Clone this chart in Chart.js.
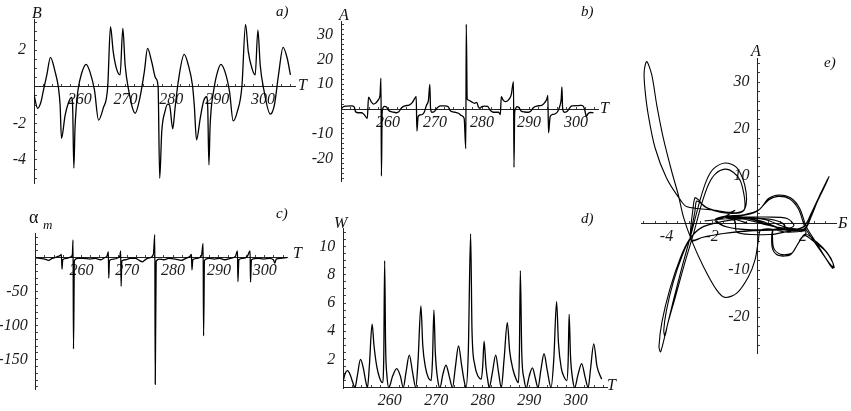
<!DOCTYPE html>
<html lang="ru">
<head>
<meta charset="UTF-8">
<title>Chaotic regime: B, A, alpha_m, W and phase portrait</title>
<script src="https://cdn.jsdelivr.net/npm/chart.js"></script>
<style>
    body { margin: 0; background: #fff; width: 851px; height: 411px; overflow: hidden; position: relative; }
    canvas { position: absolute; }
    .lbl { position: absolute; font-family: 'Liberation Serif', serif; font-style: italic; font-size: 16px; line-height: 1; color: #111; }
    .pl { font-size: 15px; }
</style>
</head>
<body>
<canvas id="cA" width="315" height="195" style="left:0;top:0"></canvas>
<canvas id="cB" width="305" height="195" style="left:310px;top:0"></canvas>
<canvas id="cC" width="315" height="210" style="left:0;top:195px"></canvas>
<canvas id="cD" width="315" height="216" style="left:305px;top:195px"></canvas>
<canvas id="cE" width="226" height="330" style="left:625px;top:40px"></canvas>

<span class="lbl" style="left:32px;top:5px">B</span>
<span class="lbl" style="left:298px;top:77px">T</span>
<span class="lbl pl" style="left:276px;top:4px">a)</span>
<span class="lbl" style="left:339px;top:7px">A</span>
<span class="lbl" style="left:600px;top:100px">T</span>
<span class="lbl pl" style="left:581px;top:4px">b)</span>
<span class="lbl" style="left:29px;top:208px;font-style:normal;font-family:'Liberation Serif',serif;font-size:18px">α</span>
<span class="lbl" style="left:43px;top:218px;font-size:13px">m</span>
<span class="lbl" style="left:293px;top:245px">T</span>
<span class="lbl pl" style="left:276px;top:206px">c)</span>
<span class="lbl" style="left:334px;top:215px">W</span>
<span class="lbl pl" style="left:581px;top:211px">d)</span>
<span class="lbl" style="left:607px;top:377px">T</span>
<span class="lbl" style="left:751px;top:43px">A</span>
<span class="lbl pl" style="left:824px;top:55px">e)</span>
<span class="lbl" style="left:838px;top:215px">Б</span>

<script>
    // a) B(T)
    const aT = [250, 250.8, 251.5, 252, 252.8, 253.6, 254.6, 255.3, 255.7, 256, 256.8, 257.6, 258.2, 258.45, 258.7, 258.95, 259.2, 259.6,
        260.4, 261.4, 262.2, 263.2, 264.1, 265.1, 266.1, 266.7, 267.3, 268, 268.8, 269.4, 269.9, 270.6, 272.1, 273.1, 274.1, 274.8,
        275.7, 276.6, 277.1, 277.45, 277.9, 278.6, 279.2, 279.6, 280.3, 280.8, 281.5, 282.8, 283.7, 284.6, 285, 285.5, 286.3, 287,
        287.7, 287.95, 288.2, 288.45, 288.7, 289.2, 289.9, 290.8, 291.7, 292.7, 293.5, 294.4, 295.4, 296.2, 296.8, 297.6, 298.3,
        298.9, 299.4, 300.2, 301.6, 302.5, 303.4, 304.4, 305.3, 306];
    const aB = [-0.45, -1.18, -0.85, -0.27, 0.64, 1.6, 0.82, 0, -1, -2.82, -1.55, -0.82, -0.58, -1.2, -4.45, -2.3, -1.2, -0.2,
        0.73, 1.22, 0.82, -0.18, -1.82, -1.18, 0, 3.27, 1.91, 1, 0.64, 3.18, 1.18, -0.09, -1.45, -0.64, 0.82, 2.09,
        1.36, 0.45, 0, -5, -2.45, -1.36, -0.95, -1, -2.3, -1.18, 0.27, 1.76, 1.18, 0.09, -1, -2.9, -1.73, -0.82,
        -0.55, -1.2, -4.27, -2.2, -1.2, -0.27, 0.64, 1.22, 0.82, -0.27, -1.87, -1.36, 0, 3.4, 1.91, 1, 0.64,
        3.09, 1.18, -0.18, -1.5, -1, 0.64, 2.15, 1.55, 0.64];

    // b) A(T)
    const bT = [250, 250.5, 251.2, 252.3, 252.8, 253.1, 253.7, 254.4, 255, 255.6, 255.85, 256.4, 256.9, 257.4, 257.9, 258.3, 258.5,
        258.6, 258.75, 258.9, 259.2, 259.7, 260.1, 261.1, 261.8, 262.3, 262.9, 263.6, 264.5, 265.2, 265.7, 266, 266.15, 266.4,
        266.8, 267.3, 267.7, 268.2, 268.6, 268.9, 269.05, 269.3, 269.8, 270.4, 271.1, 272.1, 272.8, 273.3, 274.3, 275, 275.7,
        276.2, 276.55, 276.65, 276.85, 277.1, 277.7, 278.4, 278.9, 279.2, 279.6, 279.9, 280.5, 281.2, 281.7, 282.4, 283.5,
        283.9, 284.1, 284.5, 285, 285.6, 286.2, 286.7, 286.8, 286.95, 287.1, 287.4, 287.9, 288.3, 289.1, 289.9, 290.4, 290.9,
        291.6, 292.7, 293.3, 293.8, 294, 294.15, 294.5, 295, 295.5, 296.1, 296.6, 296.85, 297, 297.15, 297.5, 298, 298.5,
        299.1, 300.5, 301.2, 301.6, 301.9, 302.2, 302.5, 303, 303.7];
    const bA = [0, 0.9, 1.2, 1.3, 0.9, -1.1, -1.5, -1.5, -2.4, -3.8, 4.8, 3, 2, 2.4, 3.6, 5.6, 12.4,
        -27, -2, 0.3, 1.1, 0.8, -0.5, -1.3, -1.5, -1.1, 0.5, 1.3, 1.6, 2.7, 4.3, 5, -8.9, -3.1,
        -2.4, -2.2, -1.3, 1.6, 3.5, 9.9, 0.3, -1.3, -1.1, 0.3, 1.3, 1.3, 0.9, -0.8, -1.3, -1.7, -2.7,
        -3.8, -16, 34.2, 4, 3.6, 3, 2.3, 2.7, 0.9, 0.3, 0.9, 1.2, 1.1, -0.4, -1.3, -1.3,
        -2.2, 5, 3.6, 3, 3.6, 5.6, 11, -23.5, -1.5, 0, 1, 0.5, -0.8, -1.2, -1.3, -0.8, 0.5,
        1.2, 1.5, 2.5, 4, 5.5, -9.6, -3, -2.2, -2, -1, 1.5, 4, 8.9, 0.3, -1.3, -1.1, 0,
        1.3, 1.4, 1.5, 1, -0.7, -3, -2, -1.4, -1.5];

    // c) alpha_m(T)
    const cT = [250, 251, 252, 252.8, 253.6, 254.5, 255.3, 255.6, 255.75, 255.9, 256.8, 257.6, 258, 258.15, 258.25, 258.45,
        259.2, 260.5, 261.8, 263, 264.2, 265, 265.6, 265.85, 265.95, 266.1, 267, 268, 268.4, 268.55, 268.65, 268.8, 269.6,
        270.6, 271.8, 272.6, 273.3, 274.1, 275, 275.7, 276, 276.1, 276.3, 277, 278, 279, 280.5, 281.8, 282.8, 283.7, 284,
        284.12, 284.3, 285.3, 286.2, 286.55, 286.65, 286.85, 287.8, 289, 290.2, 291.3, 292.5, 293.6, 294.05, 294.15, 294.35,
        295.2, 296.2, 296.8, 296.9, 297.1, 298.5, 299.8, 301, 301.9, 302.2, 302.5, 303.5, 304.8];
    const cAlpha = [0, -1, -2, -4, -1, 1, 3, 5, -17, -3, -1, 1, 4, 26, -134, -4,
        -1, -1, -2, -1, -3, 0, 3, 9, -30, -4, -2, 0, 3, 10, -42, -5, -3,
        -1, -1, -4, -6, -2, 0, 5, 34, -186, -5, -2, -3, -1, -2, -4, -1, 2, 5,
        -18, -3, -1, 3, 21, -115, -4, -1, -2, -1, -3, -1, 2, 10, -35, -3,
        -1, 2, 10, -36, -3, -1, -2, -1, -3, -8, -2, -1, 0];

    // d) W(T)
    const dT = [250, 250.4, 250.9, 251.5, 252, 252.5, 253, 253.7, 254.3, 254.8, 255.2, 255.6, 256.2, 256.6, 257.2, 257.8, 258.4,
        258.7, 258.9, 259.1, 259.4, 259.8, 260.6, 261.5, 262.3, 262.9, 263.5, 264.2, 264.9, 265.6, 266.1, 266.7, 267.1, 267.7,
        268.3, 268.9, 269.2, 269.5, 269.8, 270.3, 270.8, 271.4, 272.1, 272.8, 273.5, 274.1, 274.8, 275.5, 276, 276.4, 276.9,
        277.4, 277.7, 278.3, 279, 279.7, 280, 280.3, 280.7, 281.1, 281.4, 282.1, 282.8, 283.4, 284, 284.6, 285.3, 285.8, 286.5,
        287.2, 287.7, 287.9, 288.1, 288.4, 288.9, 289.4, 290, 290.7, 291.3, 291.9, 292.5, 293.2, 293.9, 294.7, 295.3, 295.9,
        296.3, 296.9, 297.6, 298.1, 298.4, 298.6, 298.9, 299.4, 299.8, 300.5, 301.3, 302, 302.7, 303.2, 303.9, 304.6, 305.6];
    const dW = [0.5, 1, 1.2, 0.9, 0.4, 0, 0.8, 2, 1.4, 0.5, 0, 1.5, 4.5, 3, 1.5, 0.7, 0.35,
        2, 9, 3, 0.8, 0, 0.8, 1.35, 0.8, 0, 1.1, 2.3, 1.1, 0, 2, 5.8, 3, 1.4,
        0.7, 0.5, 2, 5.5, 2.5, 0.6, 0, 0.9, 1.6, 0.8, 0, 1.4, 2.95, 1.5, 0.5, 0, 2.5,
        10.9, 4, 1.6, 0.8, 0.6, 1.5, 3.3, 1.5, 0.5, 0, 1.1, 2.3, 1.1, 0, 2, 4.6, 2.6, 1.3,
        0.6, 0.35, 2.5, 8.3, 2.5, 0.6, 0, 0.8, 1.4, 0.7, 0, 1.2, 2.4, 1.2, 0, 2, 6.1,
        3.2, 1.4, 0.7, 0.5, 2, 5.2, 2.2, 0.5, 0, 0.9, 1.7, 0.8, 0, 1.3, 3.1, 1.5, 0.6];

    // e) phase portrait A(B), traced along the trajectory
    const eB = [-0.45, -1, -1.15, -0.6, 0.4, 1.3, 1.6, 1.3, 0.5, -0.5, -1.5, -2.4, -2.9,
        -2.95, -2.85, -2.75, -2.6, -2.35, -1.8, -1.1, -0.65, -0.5, -0.5, -0.65, -0.95, -1.43, -1.95, -2.25, -2.55, -2.9,
        -3.3, -3.7, -4.05, -4.2, -4.27, -4.33, -4.2, -3.85, -3.4, -3, -2.5, -1.6, -0.5, 0.5, 1.1, 1.2, 0.6, -0.5, -1.4,
        -1.8, -1.5, -0.7,
        0, 0.5, 0.9, 1.4, 1.8, 2.1, 2.5, 3, 3.3, 3.32, 3.05, 2.6, 2.1, 1.8, 1.5, 1, 0.72, 0.66, 0.72, 1.5, 2.08, 2.3,
        2.6, 2.92, 3.11, 3.04, 2.7, 2.36, 2, 1.2, 0.1, -0.8, -1.45,
        -0.64, 0.82, 1.8, 2.09, 1.3, 0.5, 0.12, 0.04, -0.11, -0.4, -0.91, -1.43, -1.8, -2.38, -2.9, -3.26, -3.48, -3.77,
        -4.14, -4.43, -4.65, -4.87, -4.98, -4.95, -4.8, -4.5, -4, -3.4, -3.1, -1.94, -1.2,
        -1, -1.6, -2.3, -1.2, 0.3, 1.2, 1.76, 1.2, 0.1, -1.5, -2.4, -2.9,
        -2.9, -2.75, -2.68, -2.5, -2.2, -1.6, -0.9, -0.6, -0.55, -0.6, -0.75, -1.05, -1.43, -1.85, -2.15, -2.45, -2.8,
        -3.2, -3.6, -3.95, -4.07, -4.12, -4, -3.7, -3.3, -2.95, -2.4, -1.5, -0.4, 0.6, 1.15, 1.2, 0.5, -0.6, -1.5, -1.87,
        -1.4, -0.6,
        0.05, 0.5, 0.95, 1.45, 1.85, 2.15, 2.6, 3.05, 3.36, 3.3, 3, 2.55, 2.05, 1.75, 1.45, 0.95, 0.68, 0.62, 0.7, 1.5,
        2.1, 2.35, 2.65, 2.95, 3.14, 3.07, 2.72, 2.38, 2, 1.2, 0.2, -0.8, -1.5,
        -1, -0.9, 0.6, 1.5, 2.15, 1.5, 0.64];
    const eA = [0, 0.9, 1.2, 1.3, 1.3, 1, -0.5, -1.3, -1.5, -1.6, -2.2, -3, -3.8,
        -2, 2.5, 5.4, 5, 3.6, 2.6, 2.2, 2.6, 4, 6.5, 9.5, 12, 12.8, 11.5, 9, 4.5, -2,
        -9, -16.5, -23.5, -26.5, -27.4, -26.2, -21, -14, -7.5, -3.5, -1, 0.3, 1, 0.9, 0, -1.2, -1.5, -1.4, -0.7,
        0.6, 1.4, 1.6,
        2.6, 5, 5.7, 5.2, 3, -1, -4, -7.5, -9.6, -8.5, -6.2, -4, -2.3, -4.2, -6.4, -6.6, -5.4, -3, -1.3, -1.5, -1.1, 1.1,
        4.5, 7.6, 9.6, 9, 5.6, 2.1, -0.9, -1.4, 0.3, 1.3, 1.3,
        0.9, -0.8, -1.3, -1.6, -1.9, -1.2, -1.6, -3.6, -7.8, -11.4, -14.9, -15.8, -14.2, -9.2, -3.6, 1.4, 6, 11,
        18.1, 25.2, 31.6, 34.4, 32.3, 28.7, 23, 16, 9.6, 5, 3.5, 2.8, 2.3,
        2.7, 1, 0.5, 1, 0.8, -0.8, -1.3, -1.4, -1.5, -2.2, -3, -3.6,
        -1.5, 2.5, 4.7, 4.3, 3.2, 2.3, 2.1, 2.7, 4.2, 6.2, 9, 10.8, 11.5, 10.5, 8.3, 4.2, -2,
        -8.5, -15.5, -21.5, -24, -22.8, -18.5, -12.5, -6.8, -3.2, -0.8, 0.4, 1.1, 0.8, -0.1, -1.1, -1.4, -1.3, -0.6, 0.7,
        1.5, 1.8,
        2.8, 5.3, 6, 5.4, 3.2, -0.8, -4.3, -7.8, -9.5, -8.3, -6, -4.2, -2.6, -4.6, -6.7, -6.9, -5.7, -3.3, -1.4, -1.6,
        -1.2, 1.3, 4.8, 7.8, 9.9, 9.2, 5.8, 2.2, -0.8, -1.4, 0.4, 1.3, 1.4,
        0.5, -2, -2.4, -1.6, -1.4, -1.4, -1.5];

    const tickFont = { family: "'Liberation Serif', serif", style: 'italic', size: 16 };

    function pts(xs, ys) {
        return xs.map((x, i) => ({ x: x, y: ys[i] }));
    }

    // axes sit on the data (Mathematica style), so they must not eat layout space
    function zeroFit(scale) {
        if (scale.isHorizontal()) scale.height = 0; else scale.width = 0;
        scale.paddingLeft = scale.paddingRight = scale.paddingTop = scale.paddingBottom = 0;
    }

    // negative tick length puts the small ticks on the inner side of the axis
    function axis(min, max, step, at, every, skip, tail) {
        return {
            type: 'linear', min: min, max: max, position: at,
            afterFit: zeroFit,
            border: { display: true, color: '#222', width: 1 },
            grid: { drawOnChartArea: false, drawTicks: true, tickLength: -3, tickColor: '#444' },
            ticks: {
                stepSize: step, includeBounds: false, autoSkip: false, maxRotation: 0, padding: 7,
                color: '#1a1a1a', font: tickFont,
                callback: v => (Math.abs(v % every) < 1e-6 && v !== skip) ? String(v) + tail : ''
            }
        };
    }

    function panel(id, pad, xs, ys, data, extra) {
        return new Chart(document.getElementById(id), {
            type: 'line',
            data: { datasets: [Object.assign({ data: data, borderColor: '#000', borderWidth: 1.3, pointRadius: 0, fill: false }, extra)] },
            options: {
                responsive: false, animation: false, events: [],
                layout: { padding: pad },
                plugins: { legend: { display: false }, tooltip: { enabled: false } },
                scales: { x: xs, y: ys }
            }
        });
    }

    const mono = { cubicInterpolationMode: 'monotone' };

    panel('cA', { left: 34, right: 20, top: 19.8, bottom: 11.2 },
        axis(250, 307, 2, { y: 0 }, 10, 250, ''),
        axis(-5.3, 3.65, 0.5, { x: 250 }, 2, 0, '  '),
        pts(aT, aB), mono);

    panel('cB', { left: 31, right: 16.7, top: 21.7, bottom: 13.3 },
        axis(250, 304.74, 2, { y: 0 }, 10, 250, ''),
        axis(-29.3, 35.2, 2, { x: 250 }, 10, 0, '  '),
        pts(bT, bA), mono);

    panel('cC', { left: 35.7, right: 27.7, top: 38, bottom: 16 },
        axis(250, 304.93, 2, { y: 0 }, 10, 250, ''),
        axis(-193, 36.3, 10, { x: 250 }, 50, 0, '  '),
        pts(cT, cAlpha), mono);

    panel('cD', { left: 38.3, right: 12.3, top: 33.3, bottom: 22.7 },
        axis(250, 306.9, 2, { y: 0 }, 10, 250, ''),
        axis(-0.05, 11.3, 0.5, { x: 250 }, 2, 0, '  '),
        pts(dT, dW), mono);

    panel('cE', { left: 16.7, right: 14.3, top: 18.3, bottom: 16.7 },
        axis(-5.09, 3.48, 0.5, { y: 0 }, 2, 0, ''),
        axis(-27.7, 35.1, 2, { x: 0 }, 10, 0, '  '),
        pts(eB, eA), { tension: 0.3, borderWidth: 1.1 });
</script>
</body>
</html>
